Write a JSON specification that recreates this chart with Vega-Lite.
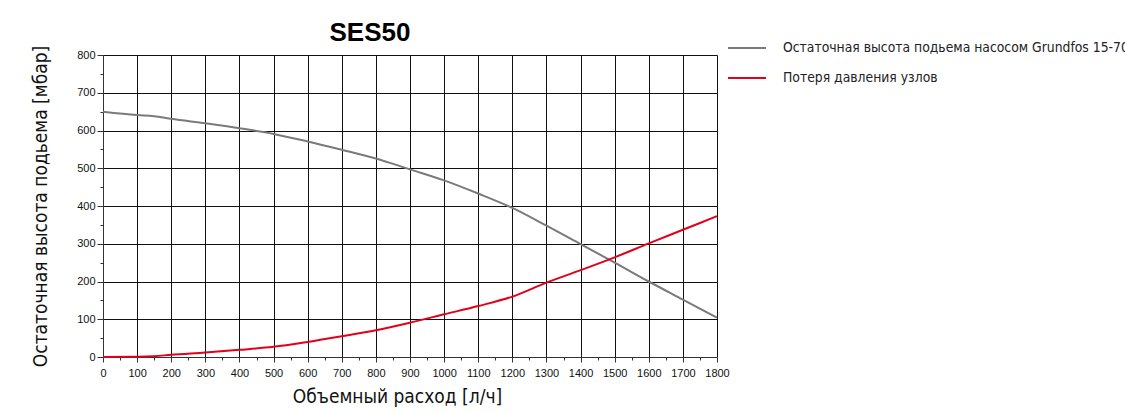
{
  "$schema": "https://vega.github.io/schema/vega-lite/v6.json",
  "width": 614,
  "height": 302,
  "autosize": {"type": "none"},
  "padding": {"left": 103, "top": 55, "right": 408, "bottom": 55},
  "background": "white",
  "config": {"view": {"stroke": null}},
  "title": {
    "text": "SES50",
    "font": "Liberation Sans",
    "fontSize": 26,
    "fontWeight": "bold",
    "color": "#000000",
    "anchor": "middle",
    "dx": -40,
    "offset": 9,
    "dy": 53,
    "baseline": "bottom"
  },
  "data": {
    "values": [
      {"flow": 0, "value": 650, "series": "Остаточная высота подьема насосом Grundfos 15-70"},
      {"flow": 100, "value": 641, "series": "Остаточная высота подьема насосом Grundfos 15-70"},
      {"flow": 150, "value": 638, "series": "Остаточная высота подьема насосом Grundfos 15-70"},
      {"flow": 200, "value": 631, "series": "Остаточная высота подьема насосом Grundfos 15-70"},
      {"flow": 300, "value": 619, "series": "Остаточная высота подьема насосом Grundfos 15-70"},
      {"flow": 400, "value": 606, "series": "Остаточная высота подьема насосом Grundfos 15-70"},
      {"flow": 500, "value": 591, "series": "Остаточная высота подьема насосом Grundfos 15-70"},
      {"flow": 600, "value": 571, "series": "Остаточная высота подьема насосом Grundfos 15-70"},
      {"flow": 700, "value": 549, "series": "Остаточная высота подьема насосом Grundfos 15-70"},
      {"flow": 800, "value": 526, "series": "Остаточная высота подьема насосом Grundfos 15-70"},
      {"flow": 900, "value": 497, "series": "Остаточная высота подьема насосом Grundfos 15-70"},
      {"flow": 1000, "value": 468, "series": "Остаточная высота подьема насосом Grundfos 15-70"},
      {"flow": 1100, "value": 433, "series": "Остаточная высота подьема насосом Grundfos 15-70"},
      {"flow": 1200, "value": 395, "series": "Остаточная высота подьема насосом Grundfos 15-70"},
      {"flow": 1300, "value": 348, "series": "Остаточная высота подьема насосом Grundfos 15-70"},
      {"flow": 1400, "value": 299, "series": "Остаточная высота подьема насосом Grundfos 15-70"},
      {"flow": 1500, "value": 250, "series": "Остаточная высота подьема насосом Grundfos 15-70"},
      {"flow": 1600, "value": 200, "series": "Остаточная высота подьема насосом Grundfos 15-70"},
      {"flow": 1700, "value": 152, "series": "Остаточная высота подьема насосом Grundfos 15-70"},
      {"flow": 1800, "value": 104, "series": "Остаточная высота подьема насосом Grundfos 15-70"},
      {"flow": 0, "value": 0, "series": "Потеря давления узлов"},
      {"flow": 100, "value": 0.5, "series": "Потеря давления узлов"},
      {"flow": 150, "value": 2, "series": "Потеря давления узлов"},
      {"flow": 200, "value": 6, "series": "Потеря давления узлов"},
      {"flow": 300, "value": 12, "series": "Потеря давления узлов"},
      {"flow": 400, "value": 19, "series": "Потеря давления узлов"},
      {"flow": 500, "value": 27, "series": "Потеря давления узлов"},
      {"flow": 600, "value": 40, "series": "Потеря давления узлов"},
      {"flow": 700, "value": 55, "series": "Потеря давления узлов"},
      {"flow": 800, "value": 71, "series": "Потеря давления узлов"},
      {"flow": 900, "value": 91, "series": "Потеря давления узлов"},
      {"flow": 1000, "value": 113, "series": "Потеря давления узлов"},
      {"flow": 1100, "value": 135, "series": "Потеря давления узлов"},
      {"flow": 1200, "value": 160, "series": "Потеря давления узлов"},
      {"flow": 1300, "value": 197, "series": "Потеря давления узлов"},
      {"flow": 1400, "value": 230, "series": "Потеря давления узлов"},
      {"flow": 1500, "value": 264, "series": "Потеря давления узлов"},
      {"flow": 1600, "value": 301, "series": "Потеря давления узлов"},
      {"flow": 1700, "value": 337, "series": "Потеря давления узлов"},
      {"flow": 1800, "value": 373, "series": "Потеря давления узлов"}
    ]
  },
  "mark": {"type": "line", "strokeWidth": 2, "interpolate": "monotone"},
  "encoding": {
    "x": {
      "field": "flow",
      "type": "quantitative",
      "scale": {"domain": [0, 1800], "nice": false},
      "axis": {
        "title": "Объемный расход [л/ч]",
        "values": [0, 50, 100, 150, 200, 250, 300, 350, 400, 450, 500, 550, 600, 650, 700, 750, 800, 850, 900, 950, 1000, 1050, 1100, 1150, 1200, 1250, 1300, 1350, 1400, 1450, 1500, 1550, 1600, 1650, 1700, 1750, 1800],
        "labelExpr": "datum.value % 100 === 0 ? datum.value : ''",
        "tickSize": {"condition": {"test": "datum.value % 100 === 0", "value": 5}, "value": 3},
        "gridOpacity": {"condition": {"test": "datum.value % 100 === 0", "value": 1}, "value": 0},
        "grid": true,
        "gridColor": "#111111",
        "gridWidth": 1,
        "domainColor": "#333333",
        "tickColor": "#333333",
        "labelFont": "Liberation Sans",
        "labelFontSize": 11,
        "labelColor": "#111111",
        "labelPadding": 5,
        "labelFlush": false,
        "titleFont": "DejaVu Sans Condensed",
        "titleFontSize": 19,
        "titleFontWeight": "normal",
        "titleColor": "#111111",
        "titlePadding": 9,
        "titleX": 294,
        "titleAlign": "center"
      }
    },
    "y": {
      "field": "value",
      "type": "quantitative",
      "scale": {"domain": [0, 800], "nice": false},
      "axis": {
        "title": "Остаточная высота подьема [мбар]",
        "values": [0, 50, 100, 150, 200, 250, 300, 350, 400, 450, 500, 550, 600, 650, 700, 750, 800],
        "labelExpr": "datum.value % 100 === 0 ? datum.value : ''",
        "tickSize": {"condition": {"test": "datum.value % 100 === 0", "value": 6}, "value": 3},
        "gridOpacity": {"condition": {"test": "datum.value % 100 === 0", "value": 1}, "value": 0},
        "grid": true,
        "gridColor": "#111111",
        "gridWidth": 1,
        "domainColor": "#333333",
        "tickColor": "#333333",
        "labelFont": "Liberation Sans",
        "labelFontSize": 11,
        "labelColor": "#111111",
        "labelPadding": 2,
        "labelFlush": false,
        "titleFont": "DejaVu Sans Condensed",
        "titleFontSize": 19,
        "titleFontWeight": "normal",
        "titleColor": "#111111",
        "titlePadding": 26
      }
    },
    "color": {
      "field": "series",
      "type": "nominal",
      "scale": {
        "domain": ["Остаточная высота подьема насосом Grundfos 15-70", "Потеря давления узлов"],
        "range": ["#7a7a7a", "#e2001a"]
      },
      "legend": {
        "title": null,
        "orient": "none",
        "legendX": 624,
        "legendY": -27,
        "symbolType": "stroke",
        "symbolSize": 1444,
        "symbolStrokeWidth": 2,
        "labelFont": "DejaVu Sans Condensed",
        "labelFontSize": 13.8,
        "labelColor": "#222222",
        "labelOffset": 16,
        "labelLimit": 500,
        "rowPadding": 3
      }
    }
  }
}
